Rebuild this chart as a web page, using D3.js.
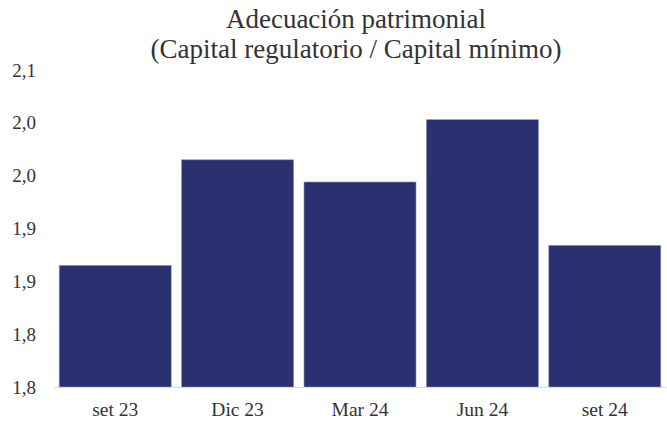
<!DOCTYPE html>
<html>
<head>
<meta charset="utf-8">
<script src="https://cdn.jsdelivr.net/npm/d3@7"></script>
<style>
  html, body { margin: 0; padding: 0; background: #fff; }
  svg { display: block; }
</style>
</head>
<body>
<svg id="chart" width="667" height="421"></svg>
<script>
const categories = ["set 23", "Dic 23", "Mar 24", "Jun 24", "set 24"];
const values = [1.865, 1.965, 1.944, 2.003, 1.884];
const yTicks = [1.75, 1.80, 1.85, 1.90, 1.95, 2.00, 2.05];
const titleLines = ["Adecuación patrimonial", "(Capital regulatorio / Capital mínimo)"];

const fontFamily = "'Liberation Serif', 'DejaVu Serif', serif";
const textColor = "#333";

const svg = d3.select("#chart");
const width = 667;
const height = 421;

const margin = { top: 70, right: 1, bottom: 34, left: 54 };
const innerW = width - margin.left - margin.right;
const innerH = height - margin.top - margin.bottom;

const g = svg.append("g").attr("transform", `translate(${margin.left},${margin.top})`);

const x = d3.scaleBand()
  .domain(categories)
  .range([0, innerW])
  .paddingInner(0.085)
  .paddingOuter(0.0425);

const y = d3.scaleLinear().domain([1.75, 2.05]).range([innerH, 0]);

// Excel-style rounding to one decimal, comma separator
const fmt = (v) => (Math.round(v * 10 + 1e-9) / 10).toFixed(1).replace(".", ",");

// title
svg.append("g")
  .selectAll("text")
  .data(titleLines)
  .join("text")
  .attr("x", 356)
  .attr("y", (d, i) => 28 + i * 30)
  .attr("text-anchor", "middle")
  .attr("font-family", fontFamily)
  .attr("font-size", 27)
  .attr("fill", textColor)
  .text((d) => d);

// bars
g.append("g")
  .selectAll("rect")
  .data(values)
  .join("rect")
  .attr("x", (d, i) => x(categories[i]))
  .attr("y", (d) => y(d))
  .attr("width", x.bandwidth())
  .attr("height", (d) => innerH - y(d))
  .attr("fill", "#2a3170")
  .attr("stroke", "#8c93b8")
  .attr("stroke-width", 0.6);

// y axis
const yAxis = g.append("g")
  .call(d3.axisLeft(y).tickValues(yTicks).tickSize(0).tickPadding(18).tickFormat(fmt));
yAxis.select(".domain").remove();
yAxis.selectAll("text")
  .attr("font-family", fontFamily)
  .attr("font-size", 19)
  .attr("fill", textColor);

// x axis
const xAxis = g.append("g")
  .attr("transform", `translate(0,${innerH})`)
  .call(d3.axisBottom(x).tickSize(0).tickPadding(15));
xAxis.select(".domain").attr("stroke", "#d9d9d9").attr("stroke-width", 1.2);
xAxis.selectAll("text")
  .attr("font-family", fontFamily)
  .attr("font-size", 19.5)
  .attr("fill", textColor);
</script>
</body>
</html>
